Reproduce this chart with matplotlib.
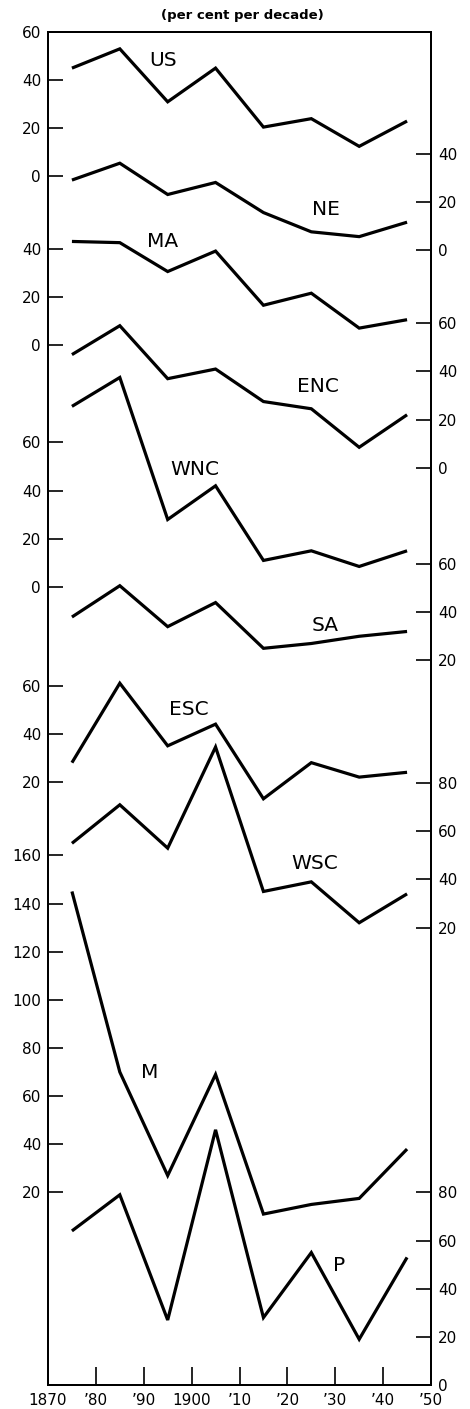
import matplotlib
matplotlib.use('Agg')
import matplotlib.pyplot as plt
import matplotlib.transforms as mtransforms

# ---------------- data ----------------
years = [1875, 1885, 1895, 1905, 1915, 1925, 1935, 1945]
us = [45, 53, 31, 45, 20.5, 24, 12.5, 23]
ne = [29, 36, 23, 28, 15.5, 7.5, 5.5, 11.5]
ma = [43, 42.5, 30.5, 39, 16.5, 21.5, 7, 10.5]
enc = [47, 59, 37, 41, 27.5, 24.5, 8.5, 22]
wnc = [75, 87, 28, 42, 11, 15, 8.5, 15]
sa = [38, 51, 34, 44, 25, 27, 30, 32]
esc = [28, 61, 35, 44, 13, 28, 22, 24]
wsc = [55, 71, 53, 95, 35, 39, 22, 34]
m = [145, 70, 27, 69, 11, 15, 17.5, 38]
p = [64, 79, 27, 106, 28, 55, 19, 53]

series_names = ['US', 'NE', 'MA', 'ENC', 'WNC', 'SA', 'ESC', 'WSC', 'M', 'P']
series_values = [us, ne, ma, enc, wnc, sa, esc, wsc, m, p]
series_ticks = [
    [0, 20, 40, 60],
    [0, 20, 40],
    [0, 20, 40],
    [0, 20, 40, 60],
    [0, 20, 40, 60],
    [20, 40, 60],
    [20, 40, 60],
    [20, 40, 60, 80],
    [20, 40, 60, 80, 100, 120, 140, 160],
    [0, 20, 40, 60, 80],
]
x_tick_years = [1870, 1880, 1890, 1900, 1910, 1920, 1930, 1940, 1950]
x_tick_labels = ['1870', '\u201980', '\u201990', '1900', '\u201910',
                 '\u201920', '\u201930', '\u201940', '\u201950']
title_text = '(per cent per decade)'

# ---------------- layout ----------------
offsets = [502, 471.5, 432, 381, 331.5, 281, 230.5, 170, 60, 0]
sides = ['left', 'right'] * 5
label_xy = [(1894.0, 550), (1928.1, 488.4), (1894.0, 474.8), (1926.3, 414.9),
            (1900.6, 380.2), (1927.9, 315.4), (1899.5, 280.6), (1925.8, 216.5),
            (1891.3, 129.9), (1930.9, 49.5)]

W, H = 470, 1409
fig = plt.figure(figsize=(W / 100, H / 100), dpi=100)
fig.patch.set_facecolor('white')
ax = fig.add_axes([48 / W, 1 - 1385 / H, (431 - 48) / W, (1385 - 32) / H])
ax.set_xlim(1870, 1950)
ax.set_ylim(0, 562)

for vals, off in zip(series_values, offsets):
    tr = mtransforms.Affine2D().translate(0, off) + ax.transData
    ax.plot(years, vals, color='black', lw=2.3, transform=tr,
            solid_joinstyle='miter', solid_capstyle='butt')

for name, (lx, ly) in zip(series_names, label_xy):
    ax.text(lx, ly, name, ha='center', va='center', fontsize=14.5,
            family='DejaVu Sans', color='black')

left_pos, left_lab, right_pos, right_lab = [], [], [], []
for ticks, off, side in zip(series_ticks, offsets, sides):
    for t in ticks:
        if side == 'left':
            left_pos.append(off + t)
            left_lab.append(str(t))
        else:
            right_pos.append(off + t)
            right_lab.append(str(t))

ax.set_yticks(left_pos, left_lab)
ax.set_xticks(x_tick_years, x_tick_labels)
ax.tick_params(axis='y', direction='in', length=11, width=1.2, pad=5,
               labelsize=11)
ax.tick_params(axis='x', direction='in', length=13, width=1.2, pad=6,
               labelsize=11)

ax2 = ax.twinx()
ax2.set_ylim(ax.get_ylim())
ax2.set_yticks(right_pos, right_lab)
ax2.tick_params(axis='y', direction='in', length=11, width=1.2, pad=5,
                labelsize=11)

for a in (ax, ax2):
    for s in a.spines.values():
        s.set_linewidth(1.4)

fig.text(242 / W, 1 - 15 / H, title_text, ha='center', va='center',
         fontsize=9.5, fontweight='bold', family='DejaVu Sans')

fig.savefig('out.png', dpi=100, facecolor='white')
